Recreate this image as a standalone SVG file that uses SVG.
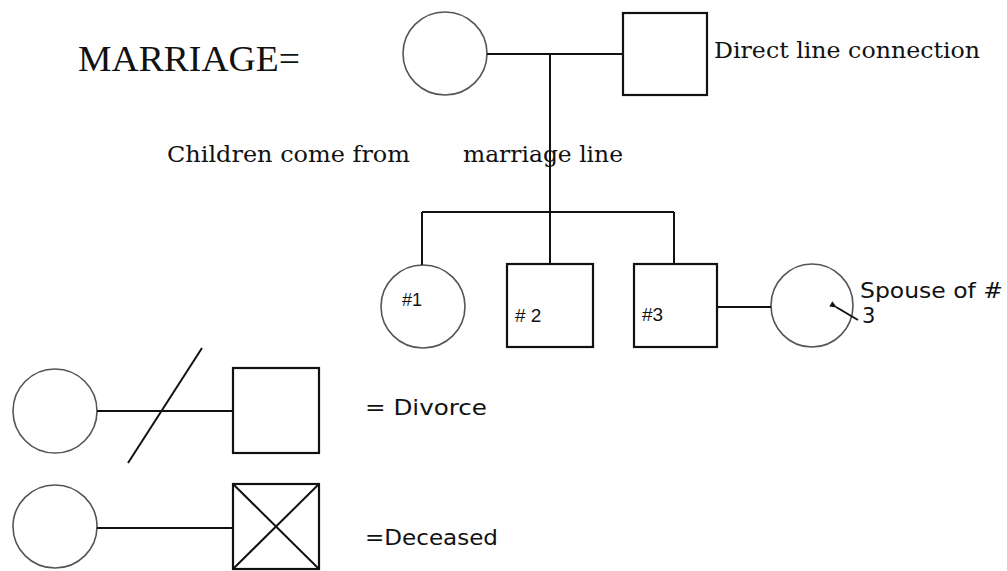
<svg xmlns="http://www.w3.org/2000/svg" width="1007" height="571" viewBox="0 0 1007 571">
<style>
.c{fill:#fff;stroke:#555;stroke-width:1.6}
.s{fill:#fff;stroke:#111;stroke-width:2.2}
.l{fill:none;stroke:#111;stroke-width:2}
.serif{font-family:"DejaVu Serif","Liberation Serif",serif;fill:#111}
.times{font-family:"Liberation Serif","Times New Roman",serif;fill:#111}
.sans{font-family:"DejaVu Sans","Liberation Sans",sans-serif;fill:#111}
.num{font-family:"Liberation Sans",Arial,sans-serif;fill:#111}
</style>
<defs>
<marker id="ah" markerWidth="8" markerHeight="8" refX="1" refY="4" orient="auto" markerUnits="userSpaceOnUse">
<path d="M7,1 L0,4 L7,7 Z" fill="#111"/>
</marker>
</defs>
<text class="times" x="78" y="71" font-size="35" textLength="222" lengthAdjust="spacingAndGlyphs">MARRIAGE=</text>
<g id="mother"><ellipse class="c" cx="445" cy="53.5" rx="42" ry="41.5"/></g>
<g id="father"><rect class="s" x="623" y="13" width="84" height="82"/>
<text class="serif" x="714" y="58" font-size="23" textLength="266" lengthAdjust="spacingAndGlyphs">Direct line connection</text></g>
<g id="label-children"><text class="serif" x="167" y="162" font-size="23" textLength="243" lengthAdjust="spacingAndGlyphs">Children come from</text>
<text class="serif" x="463" y="162" font-size="23" textLength="160" lengthAdjust="spacingAndGlyphs">marriage line</text></g>
<g id="child1"><ellipse class="c" cx="423" cy="306.5" rx="42" ry="41.5"/>
<text class="num" x="402" y="306" font-size="18">#1</text></g>
<g id="child2"><rect class="s" x="507" y="264" width="86" height="83"/>
<text class="num" x="515" y="322" font-size="19">#&#160;2</text></g>
<g id="child3"><rect class="s" x="634" y="264" width="83" height="83"/>
<text class="num" x="642" y="321" font-size="19">#3</text></g>
<g id="spouse"><ellipse class="c" cx="812" cy="305.5" rx="41" ry="41.5"/>
<text class="sans" x="860" y="298" font-size="21" textLength="143" lengthAdjust="spacingAndGlyphs">Spouse of #</text>
<text class="sans" x="862" y="323" font-size="21">3</text></g>
<g id="divorce-woman"><ellipse class="c" cx="55" cy="411" rx="42" ry="42"/></g>
<g id="divorce-man"><rect class="s" x="233" y="368" width="86" height="85"/></g>
<text class="sans" x="365" y="415" font-size="21" textLength="122" lengthAdjust="spacingAndGlyphs">= Divorce</text>
<g id="deceased-woman"><ellipse class="c" cx="55" cy="526.5" rx="42" ry="41.5"/></g>
<g id="deceased-man"><rect class="s" x="233" y="484" width="86" height="85"/>
<line class="l" x1="233" y1="484" x2="319" y2="569" stroke-width="1.6"/>
<line class="l" x1="319" y1="484" x2="233" y2="569" stroke-width="1.6"/></g>
<text class="sans" x="365" y="545" font-size="21" textLength="133" lengthAdjust="spacingAndGlyphs">=Deceased</text>
<g id="connectors">
<line class="l" x1="487" y1="54" x2="623" y2="54"/>
<line class="l" x1="550" y1="54" x2="550" y2="212"/>
<line class="l" x1="422" y1="212" x2="674" y2="212"/>
<line class="l" x1="422" y1="212" x2="422" y2="265"/>
<line class="l" x1="550" y1="212" x2="550" y2="264"/>
<line class="l" x1="674" y1="212" x2="674" y2="264"/>
<line class="l" x1="717" y1="307" x2="771" y2="307"/>
<line class="l" x1="97" y1="411" x2="233" y2="411"/>
<line class="l" x1="202" y1="348" x2="128" y2="463" stroke-width="1.8"/>
<line class="l" x1="97" y1="528" x2="233" y2="528"/>
<line class="l" x1="858" y1="320" x2="836" y2="307" stroke-width="1.5" marker-end="url(#ah)"/>
</g>
</svg>
